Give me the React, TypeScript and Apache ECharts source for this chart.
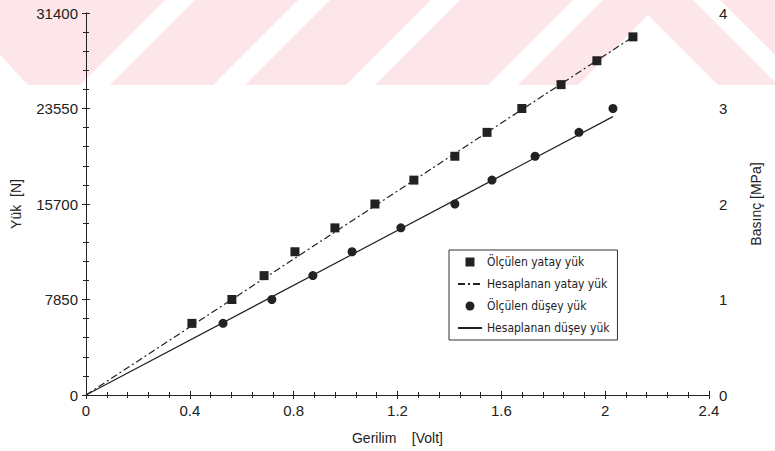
import React, { useEffect, useRef } from "react";
import * as echarts from "echarts";

// Gerilim [Volt] for each measured horizontal load
const yatayGerilim = [0.408, 0.562, 0.686, 0.805, 0.959, 1.113, 1.263, 1.421, 1.545, 1.679, 1.83, 1.968, 2.107];
// Measured horizontal load [N]
const yatayYuk = [5887.5, 7850, 9812.5, 11775, 13737.5, 15700, 17662.5, 19625, 21587.5, 23550, 25512.5, 27475, 29437.5];

// Gerilim [Volt] for each measured vertical load
const duseyGerilim = [0.528, 0.716, 0.874, 1.025, 1.213, 1.421, 1.564, 1.73, 1.899, 2.03];
// Measured vertical load [N]
const duseyYuk = [5887.5, 7850, 9812.5, 11775, 13737.5, 15700, 17662.5, 19625, 21587.5, 23550];

// Calculated lines: [Volt, N]
const hesapYatay: [number, number][] = [[0, 0], [2.107, 29437.5]];
const hesapDusey: [number, number][] = [[0, 0], [2.03, 22880]];

const xTicks = [0, 0.4, 0.8, 1.2, 1.6, 2, 2.4];
const yukTicks = [0, 7850, 15700, 23550, 31400];
const basincTicks = [0, 1, 2, 3, 4];

const seriesNames = [
  "Ölçülen yatay yük",
  "Hesaplanan yatay yük",
  "Ölçülen düşey yük",
  "Hesaplanan düşey yük",
];

const SANS = '"Liberation Sans", Arial, sans-serif';
const LEGEND_FONT = '"DejaVu Sans Condensed", "DejaVu Sans", sans-serif';
const INK = "#222";
const PINK = "#fde6ea";

function zip(xs: number[], ys: number[]): [number, number][] {
  return xs.map((x, i) => [x, ys[i]]);
}

// Faint diagonal band across the top of the page
function watermark() {
  const shapes: number[][][] = [
    [[0, 0], [165, 0], [80, 85], [28, 85], [0, 55]],
    [[195, 0], [298, 0], [213, 85], [110, 85]],
    [[330, 0], [431, 0], [346, 85], [245, 85]],
    [[460, 0], [573, 0], [488, 85], [375, 85]],
    // chevron
    [[603, 0], [693, 0], [778, 85], [718, 85], [648, 15], [578, 85], [518, 85]],
    [[720, 0], [775, 0], [775, 55]],
  ];
  return shapes.map((pts) => ({
    type: "polygon",
    z: -10,
    silent: true,
    shape: { points: pts },
    style: { fill: PINK },
  }));
}

const SQUARE_ICON = "path://M0,0H10V10H0Z";
const CIRCLE_ICON = "path://M5,0A5,5,0,1,1,5,10A5,5,0,1,1,5,0Z";

export default function App() {
  const ref = useRef<HTMLDivElement>(null);

  useEffect(() => {
    if (!ref.current) return;
    const chart = echarts.init(ref.current, null, { renderer: "svg" });

    const axisLine = { show: true, lineStyle: { color: INK, width: 1 } };
    const tick = { show: true, inside: true, length: 4, lineStyle: { color: INK } };
    const minor = { show: true, splitNumber: 5, length: 3, lineStyle: { color: INK } };
    const label = { fontFamily: SANS, fontSize: 15, color: "#222" };
    const nameStyle = { fontFamily: SANS, fontSize: 14, color: "#222" };

    chart.setOption({
      animation: false,
      backgroundColor: "#fff",
      graphic: { elements: watermark() },
      grid: {
        left: 86,
        right: 66,
        top: 13,
        bottom: 56,
        containLabel: false,
        outerBoundsMode: "none",
      },
      legend: {
        orient: "vertical",
        left: 449,
        top: 250,
        padding: [6, 8, 6, 8],
        itemGap: 10,
        itemWidth: 24,
        itemHeight: 9,
        itemTextGap: 8,
        borderColor: "#333",
        borderWidth: 1,
        borderRadius: 0,
        backgroundColor: "#fff",
        textStyle: { fontFamily: LEGEND_FONT, fontSize: 12, color: "#222" },
        data: [
          { name: seriesNames[0], icon: SQUARE_ICON },
          { name: seriesNames[1], itemStyle: { opacity: 0 } },
          { name: seriesNames[2], icon: CIRCLE_ICON },
          { name: seriesNames[3], itemStyle: { opacity: 0 } },
        ],
      },
      xAxis: [
        {
          type: "value",
          min: xTicks[0],
          max: xTicks[xTicks.length - 1],
          interval: 0.4,
          name: "Gerilim    [Volt]",
          nameLocation: "middle",
          nameGap: 36,
          nameTextStyle: nameStyle,
          axisLine,
          axisTick: tick,
          minorTick: minor,
          splitLine: { show: false },
          axisLabel: { ...label, margin: 8, formatter: (v: number) => String(v) },
        },
        {
          type: "value",
          position: "top",
          min: xTicks[0],
          max: xTicks[xTicks.length - 1],
          interval: 0.4,
          axisLine,
          axisTick: tick,
          minorTick: minor,
          splitLine: { show: false },
          axisLabel: { show: false },
        },
      ],
      yAxis: [
        {
          type: "value",
          min: yukTicks[0],
          max: yukTicks[yukTicks.length - 1],
          interval: 7850,
          name: "Yük  [N]",
          nameLocation: "middle",
          nameRotate: 90,
          nameGap: 63,
          nameTextStyle: nameStyle,
          axisLine,
          axisTick: tick,
          minorTick: minor,
          splitLine: { show: false },
          axisLabel: { ...label, margin: 8, formatter: (v: number) => String(v) },
        },
        {
          type: "value",
          position: "right",
          min: basincTicks[0],
          max: basincTicks[basincTicks.length - 1],
          interval: 1,
          name: "Basınç [MPa]",
          nameLocation: "middle",
          nameRotate: 90,
          nameGap: 40,
          nameTextStyle: nameStyle,
          axisLine,
          axisTick: tick,
          minorTick: minor,
          splitLine: { show: false },
          axisLabel: { ...label, margin: 10, formatter: (v: number) => String(v) },
        },
      ],
      series: [
        {
          name: seriesNames[0],
          type: "scatter",
          symbol: "rect",
          symbolSize: 9,
          itemStyle: { color: INK, opacity: 1 },
          data: zip(yatayGerilim, yatayYuk),
          z: 4,
        },
        {
          name: seriesNames[1],
          type: "line",
          symbol: "none",
          lineStyle: { color: INK, width: 1.2, type: [7, 3, 2, 3] },
          itemStyle: { color: INK },
          data: hesapYatay,
          z: 3,
        },
        {
          name: seriesNames[2],
          type: "scatter",
          symbol: "circle",
          symbolSize: 9,
          itemStyle: { color: INK, opacity: 1 },
          data: zip(duseyGerilim, duseyYuk),
          z: 4,
        },
        {
          name: seriesNames[3],
          type: "line",
          symbol: "none",
          lineStyle: { color: INK, width: 1.2, type: "solid" },
          itemStyle: { color: INK },
          data: hesapDusey,
          z: 3,
        },
      ],
    });

    return () => chart.dispose();
  }, []);

  return (
    <div
      ref={ref}
      style={{ position: "fixed", left: 0, top: 0, width: 775, height: 451 }}
    />
  );
}
